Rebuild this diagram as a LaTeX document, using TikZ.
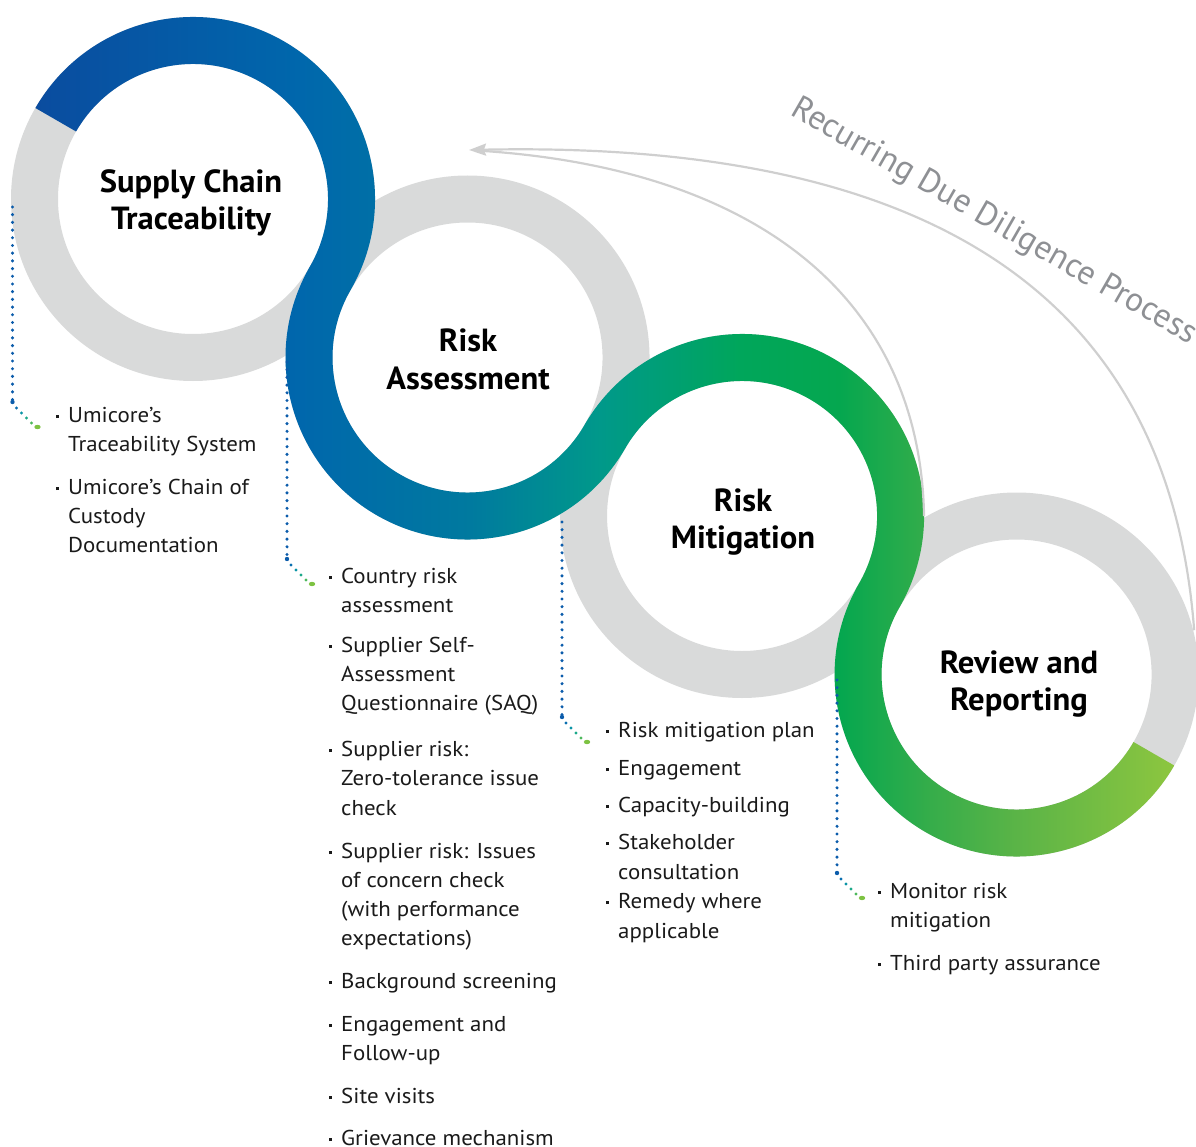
\documentclass[tikz,border=0pt]{standalone}
\usepackage{fontspec}
\setmainfont{PT Sans}
\newfontfamily\itemfont[FakeStretch=1.065]{PT Sans}
\newfontfamily\titlefont[FakeStretch=1.02]{PT Sans}
\usetikzlibrary{arrows.meta,calc}

\definecolor{ringgray}{HTML}{D9DADA}
\definecolor{arrowgray}{HTML}{CFCFCF}
\definecolor{labelgray}{HTML}{8E9094}
\definecolor{dotblue}{HTML}{0B5CAB}
\definecolor{textblack}{HTML}{1A1A1A}
\definecolor{ga}{HTML}{0A4C9F}
\definecolor{gb}{HTML}{0067AC}
\definecolor{gc}{HTML}{007A9F}
\definecolor{gd}{HTML}{00998A}
\definecolor{ge}{HTML}{00A65B}
\definecolor{gf}{HTML}{05A74F}
\definecolor{gg}{HTML}{36AD4A}
\definecolor{gh}{HTML}{5BB447}
\definecolor{gi}{HTML}{8DC63F}
\definecolor{lda}{HTML}{0A6FB0}
\definecolor{ldb}{HTML}{0A94A6}
\definecolor{ldc}{HTML}{1CA989}
\definecolor{ldd}{HTML}{4DB85C}
\definecolor{lde}{HTML}{7DC242}

\pgfdeclarehorizontalshading{sgrad}{100bp}{color(0bp)=(ga); color(25bp)=(ga); color(36.6bp)=(gb); color(44.1bp)=(gc); color(49.8bp)=(gd); color(55.9bp)=(ge); color(60.3bp)=(gf); color(64.3bp)=(gg); color(68.1bp)=(gh); color(75bp)=(gi); color(100bp)=(gi)}

\newcommand\bul{\makebox[0pt][r]{\raisebox{3.8pt}{\rule{3.4pt}{3.4pt}}\hspace{9pt}}}

\newcommand\leader[3]{%
  \coordinate (#1t) at (#2,-#3);
  \draw[dotline] (#1t) -- (#1b);
  \fill[dotblue] (#1b) circle[radius=2.2pt];
  \fill[lda] ($(#1b)+(4,-6)$) circle[radius=1.7pt];
  \fill[ldb] ($(#1b)+(9,-11)$) circle[radius=1.7pt];
  \fill[ldc] ($(#1b)+(14,-16)$) circle[radius=1.7pt];
  \fill[ldd] ($(#1b)+(19,-21)$) circle[radius=1.7pt];
  \fill[lde] ($(#1b)+(25,-25)$) ellipse[x radius=3.2pt, y radius=2.2pt];
}

\tikzset{
  ring/.style={fill=ringgray, even odd rule},
  dotline/.style={draw=dotblue, line width=3.4pt, line cap=round, dash pattern=on 0pt off 7.7pt},
  title/.style={font=\titlefont\fontsize{32}{38}\selectfont\bfseries, anchor=base, inner sep=0pt, text=black},
  item/.style={font=\itemfont\fontsize{21.5}{29}\selectfont, anchor=base west, inner sep=0pt, text=textblack},
  loop/.style={draw=arrowgray, line width=2.2pt},
}

\begin{document}
\begin{tikzpicture}[x=1pt, y=1pt]
\useasboundingbox (0,0) rectangle (1196,-1147);

% circle centres
\coordinate (c1) at (193,-199);
\coordinate (c2) at ($(c1)+(-30:317)$);
\coordinate (c3) at ($(c2)+(-30:317)$);
\coordinate (c4) at ($(c3)+(-30:317)$);

% grey rings
\foreach \c in {c1,c2,c3,c4}
  \fill[ring] (\c) circle[radius=182pt] (\c) circle[radius=135pt];

% coloured S-band
\begin{scope}
  \clip ($(c1)+(150:182)$)
    arc[start angle=150, end angle=-30, radius=182pt]
    arc[start angle=150, end angle=330, radius=135pt]
    arc[start angle=150, end angle=-30, radius=182pt]
    arc[start angle=150, end angle=330, radius=135pt]
    -- ($(c4)+(330:182)$)
    arc[start angle=330, end angle=150, radius=182pt]
    arc[start angle=-30, end angle=150, radius=135pt]
    arc[start angle=330, end angle=150, radius=182pt]
    arc[start angle=-30, end angle=150, radius=135pt]
    -- cycle;
  \shade[shading=sgrad] (35.4,0) rectangle (1174.6,-900);
\end{scope}

% recurring loop arrow
\coordinate (a4) at ($(c4)+(14:183)$);
\coordinate (a3) at ($(c3)+(0:182)$);
\coordinate (tip) at (469,-150);
\coordinate (tipb) at (484,-151);
\draw[loop, -{Stealth[length=17pt, width=12pt, inset=2pt]}] (a4) .. controls (1170,-310) and (950,-140) .. (tip);
\draw[loop] (a3) .. controls (920,-300) and (760,-170) .. (tipb);
\node[font=\fontsize{33.6}{40}\selectfont, text=labelgray, anchor=base west, rotate=-29.9, inner sep=0pt] (rdd) at (789,-114) {Recurring Due Diligence Process};

% dotted leaders
\coordinate (l1b) at (12.5,-402);
\coordinate (l2b) at (287,-559);
\coordinate (l3b) at (562,-717);
\coordinate (l4b) at (837,-873);
\leader{l1}{12.5}{207}
\leader{l2}{287}{362}
\leader{l3}{562}{522}
\leader{l4}{837}{680}

% titles
\node[title] (t1a) at (191,-193) {Supply Chain};
\node[title] (t1b) at (191,-230) {Traceability};
\node[title] (t2a) at (468,-352) {Risk};
\node[title] (t2b) at (468,-389) {Assessment};
\node[title] (t3a) at (743,-511) {Risk};
\node[title] (t3b) at (743,-548) {Mitigation};
\node[title] (t4a) at (1019,-673) {Review and};
\node[title] (t4b) at (1019,-710) {Reporting};

% list 1
\node[item] (p1) at (68,-422) {\bul Umicore’s};
\node[item] (p2) at (68,-451) {Traceability System};
\node[item] (p3) at (68,-494) {\bul Umicore’s Chain of};
\node[item] (p4) at (68,-523) {Custody};
\node[item] (p5) at (68,-552) {Documentation};

% list 2
\node[item] (q1) at (341,-583) {\bul Country risk};
\node[item] (q2) at (341,-612) {assessment};
\node[item] (q3) at (341,-652) {\bul Supplier Self-};
\node[item] (q4) at (341,-681) {Assessment};
\node[item] (q5) at (341,-710) {Questionnaire (SAQ)};
\node[item] (q6) at (341,-756) {\bul Supplier risk:};
\node[item] (q7) at (341,-785) {Zero-tolerance issue};
\node[item] (q8) at (341,-815) {check};
\node[item] (q9) at (341,-858) {\bul Supplier risk: Issues};
\node[item] (q10) at (341,-887) {of concern check};
\node[item] (q11) at (341,-916) {(with performance};
\node[item] (q12) at (341,-945) {expectations)};
\node[item] (q13) at (341,-988) {\bul Background screening};
\node[item] (q14) at (341,-1031) {\bul Engagement and};
\node[item] (q15) at (341,-1060) {Follow-up};
\node[item] (q16) at (341,-1103) {\bul Site visits};
\node[item] (q17) at (341,-1145) {\bul Grievance mechanism};

% list 3
\node[item] (r1) at (618,-737) {\bul Risk mitigation plan};
\node[item] (r2) at (618,-775) {\bul Engagement};
\node[item] (r3) at (618,-812) {\bul Capacity-building};
\node[item] (r4) at (618,-849) {\bul Stakeholder};
\node[item] (r5) at (618,-879) {consultation};
\node[item] (r6) at (618,-908) {\bul Remedy where};
\node[item] (r7) at (618,-938) {applicable};

% list 4
\node[item] (s1) at (890,-898) {\bul Monitor risk};
\node[item] (s2) at (890,-927) {mitigation};
\node[item] (s3) at (890,-970) {\bul Third party assurance};
\end{tikzpicture}
\end{document}
